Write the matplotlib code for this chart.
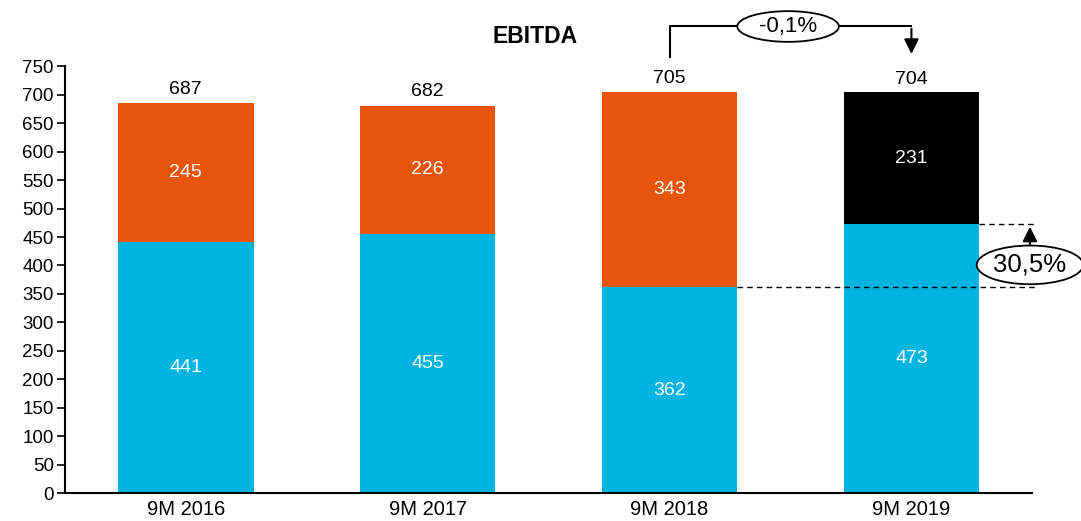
import numpy as np
import matplotlib
matplotlib.use('Agg')
import matplotlib.pyplot as plt
from matplotlib.patches import Ellipse

plt.rcParams['font.family'] = ['Liberation Sans', 'DejaVu Sans']

# data
periods = ['9M 2016', '9M 2017', '9M 2018', '9M 2019']
base = [441, 455, 362, 473]
top = [245, 226, 343, 231]
totals = [687, 682, 705, 704]
top_colors = ['#E8550A', '#E8550A', '#E8550A', '#000000']
change_total = '-0,1%'
change_base = '30,5%'

fig = plt.figure(figsize=(10.81, 5.21), dpi=100)
ax = fig.add_axes([0.060, 0.0537, 0.895, 0.819])

x = np.arange(len(periods))
w = 0.56
ax.bar(x, base, width=w, color='#00B4E1')
ax.bar(x, top, width=w, bottom=base, color=top_colors)

for i in range(len(periods)):
    ax.text(x[i], base[i] / 2, str(base[i]), ha='center', va='center', color='white', fontsize=14)
    ax.text(x[i], base[i] + top[i] / 2, str(top[i]), ha='center', va='center', color='white', fontsize=14)
    ax.text(x[i], totals[i] + 8, str(totals[i]), ha='center', va='bottom', color='black', fontsize=14)

ax.set_xlim(-0.5, 3.5)
ax.set_ylim(0, 750)
ax.set_yticks(np.arange(0, 751, 50))
ax.set_xticks(x)
ax.set_xticklabels(periods)
ax.tick_params(axis='y', labelsize=13.5, length=6, width=1.2, pad=2)
ax.tick_params(axis='x', labelsize=14.5, length=0, pad=5)
for s in ['top', 'right']:
    ax.spines[s].set_visible(False)
ax.spines['left'].set_linewidth(1.5)
ax.spines['bottom'].set_linewidth(1.5)

fig.text(0.495, 0.93, 'EBITDA', ha='center', va='center', fontsize=16.5, fontweight='bold')

# bracket between 2018 and 2019 totals
y_lo, y_hi = 767, 820
ax.plot([2, 2, 3], [y_lo, y_hi, y_hi], color='black', lw=1.5, clip_on=False)
ax.annotate('', xy=(3, y_lo), xytext=(3, y_hi + 1),
            arrowprops=dict(arrowstyle='-|>', color='black', lw=1.5, mutation_scale=22),
            annotation_clip=False)
ax.add_patch(Ellipse((2.49, y_hi), 0.42, 54, facecolor='white', edgecolor='black', lw=1.3, clip_on=False, zorder=5))
ax.text(2.49, y_hi, change_total, ha='center', va='center', fontsize=16, zorder=6)

# dashed lines and base growth
xe = 3.51
ax.plot([2 + w / 2, xe], [base[2], base[2]], color='black', lw=1, ls='--', dashes=(4, 3), clip_on=False)
ax.plot([3 + w / 2, xe], [base[3], base[3]], color='black', lw=1, ls='--', dashes=(4, 3), clip_on=False)
xa = 3.49
ax.annotate('', xy=(xa, base[3]), xytext=(xa, 410),
            arrowprops=dict(arrowstyle='-|>', color='black', lw=1.5, mutation_scale=22),
            annotation_clip=False)
ax.add_patch(Ellipse((xa, 401), 0.44, 68, facecolor='white', edgecolor='black', lw=1.3, clip_on=False, zorder=5))
ax.text(xa, 401, change_base, ha='center', va='center', fontsize=18.5, zorder=6)

fig.savefig('out.png', dpi=100)
